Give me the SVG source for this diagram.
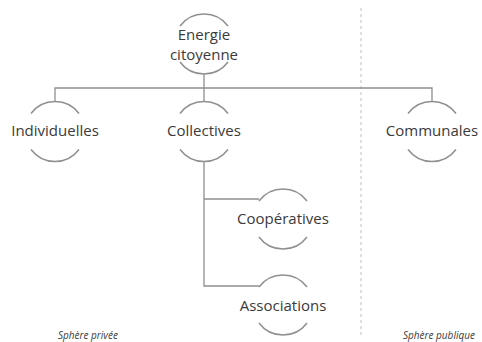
<svg xmlns="http://www.w3.org/2000/svg" width="482" height="342" viewBox="0 0 482 342">
<style>
.arc{fill:none;stroke:#8f8f8f;stroke-width:1.5}
.ln{fill:none;stroke:#8f8f8f;stroke-width:1.3}
.t{font-family:"Open Sans","Liberation Sans",sans-serif;font-size:15px;fill:#3a3a3a;text-anchor:middle}
.s{font-family:"Open Sans","Liberation Sans",sans-serif;font-size:10px;font-style:italic;fill:#3a3a3a}
</style>
<defs>
<g id="ring">
<path class="arc" d="M-24,-18 A30,30 0 0 1 24,-18"/>
<path class="arc" d="M-24,18 A30,30 0 0 0 24,18"/>
</g>
</defs>
<line x1="361" y1="8" x2="361" y2="336" stroke="#c0c0c0" stroke-width="1" stroke-dasharray="3,3"/>
<g id="connectors">
<path class="ln" d="M204,74 V88 M55,101 V88 H432 V101 M204,101 V88"/>
<path class="ln" d="M204,162 V286 H259 M204,199 H259"/>
</g>
<g id="n-energie">
<use href="#ring" x="204" y="44"/>
<text class="t" x="204" y="40">Energie</text>
<text class="t" x="204" y="60">citoyenne</text>
</g>
<g id="n-individuelles">
<use href="#ring" x="55" y="131.5"/>
<text class="t" x="55" y="136">Individuelles</text>
</g>
<g id="n-collectives">
<use href="#ring" x="204" y="131.5"/>
<text class="t" x="204" y="136">Collectives</text>
</g>
<g id="n-communales">
<use href="#ring" x="432" y="131.5"/>
<text class="t" x="432" y="136">Communales</text>
</g>
<g id="n-cooperatives">
<use href="#ring" x="283" y="219"/>
<text class="t" x="283" y="224">Coopératives</text>
</g>
<g id="n-associations">
<use href="#ring" x="283" y="305"/>
<text class="t" x="283" y="311">Associations</text>
</g>
<text class="s" x="58" y="338.5">Sphère privée</text>
<text class="s" x="403" y="338.5">Sphère publique</text>
</svg>
